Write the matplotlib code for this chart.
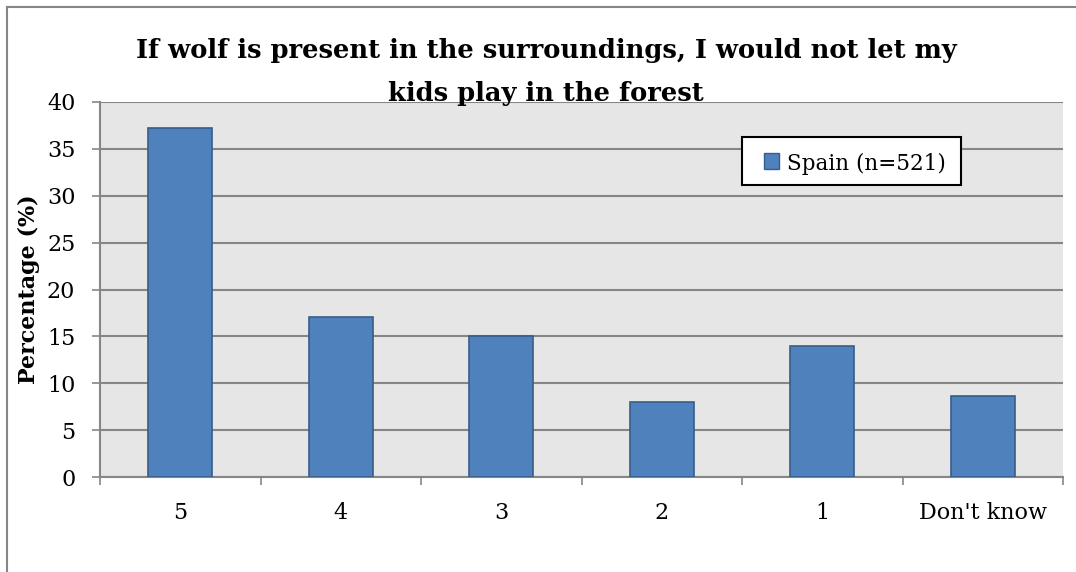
import matplotlib
matplotlib.use("Agg")
import matplotlib.pyplot as plt
from matplotlib.patches import Rectangle
from matplotlib.lines import Line2D
import numpy as np

categories = ["5", "4", "3", "2", "1", "Don't know"]
spain = [37.2, 17.1, 15.0, 8.0, 14.0, 8.6]
series_label = "Spain (n=521)"
title_lines = ["If wolf is present in the surroundings, I would not let my",
               "kids play in the forest"]
ylabel = "Percentage (%)"
yticks = [0, 5, 10, 15, 20, 25, 30, 35, 40]

W, H = 1076, 572
BAR_COLOR = '#4F81BD'
BAR_EDGE = '#385D8A'
plt.rcParams['font.family'] = ['DejaVu Serif']
fig = plt.figure(figsize=(W / 100, H / 100), dpi=100)
fig.patch.set_facecolor('white')


def fx(px):
    return px / W


def fy(py):
    return 1 - py / H


# chart area frame: only top and left edges are visible in the image
fig.add_artist(Line2D([fx(7), 1.05], [fy(7), fy(7)], transform=fig.transFigure,
                      color='#868686', lw=1.5))
fig.add_artist(Line2D([fx(7), fx(7)], [fy(7), -0.05], transform=fig.transFigure,
                      color='#868686', lw=1.5))

left, right, top, bottom = 100, 1063, 102, 477
ax = fig.add_axes([fx(left), fy(bottom), fx(right - left), (bottom - top) / H])
ax.set_facecolor('#E6E6E6')

x = np.arange(len(categories))
ax.bar(x, spain, width=0.4, color=BAR_COLOR, edgecolor=BAR_EDGE, linewidth=1.2,
       label=series_label, zorder=3)

ax.set_xlim(-0.5, len(categories) - 0.5)
ax.set_ylim(0, 40)
ax.set_yticks(yticks)
ax.set_yticklabels([str(v) for v in yticks])
ax.yaxis.grid(True, color='#868686', linewidth=1.5, zorder=1)
ax.set_axisbelow(True)

# x ticks at category boundaries, labels at centres
ax.set_xticks(np.arange(len(categories) + 1) - 0.5)
ax.set_xticklabels([])
ax.set_xticks(x, minor=True)
ax.set_xticklabels(categories, minor=True)
ax.tick_params(axis='x', which='major', direction='out', length=5.5, width=1.2, color='#868686')
ax.tick_params(axis='x', which='minor', length=0, pad=18, labelsize=16)
ax.tick_params(axis='y', direction='out', length=5.8, width=1.2, color='#868686', pad=12, labelsize=16)

for s in ['top', 'right']:
    ax.spines[s].set_visible(False)
for s in ['left', 'bottom']:
    ax.spines[s].set_color('#868686')
    ax.spines[s].set_linewidth(1.5)

ax.set_ylabel(ylabel, fontsize=16, fontweight='bold')
ax.yaxis.set_label_coords((40 - left) / (right - left), 0.5)

# two-line title
fig.text(fx(546), fy(58), title_lines[0], ha='center', va='baseline', fontsize=18.5,
         fontweight='bold')
fig.text(fx(546), fy(101), title_lines[1], ha='center', va='baseline', fontsize=18.5,
         fontweight='bold')

# legend box (drawn to match the original's layout)
fig.add_artist(Rectangle((fx(742), fy(185)), fx(961 - 742), (185 - 137) / H,
                         transform=fig.transFigure, facecolor='white', edgecolor='black',
                         lw=1.5, zorder=5))
fig.add_artist(Rectangle((fx(764), fy(169)), fx(15), 16 / H, transform=fig.transFigure,
                         facecolor=BAR_COLOR, edgecolor=BAR_EDGE, lw=1.0, zorder=6))
fig.text(fx(787), fy(161), series_label, ha='left', va='center_baseline', fontsize=15.5,
         zorder=7)

fig.savefig('out.png', dpi=100)
